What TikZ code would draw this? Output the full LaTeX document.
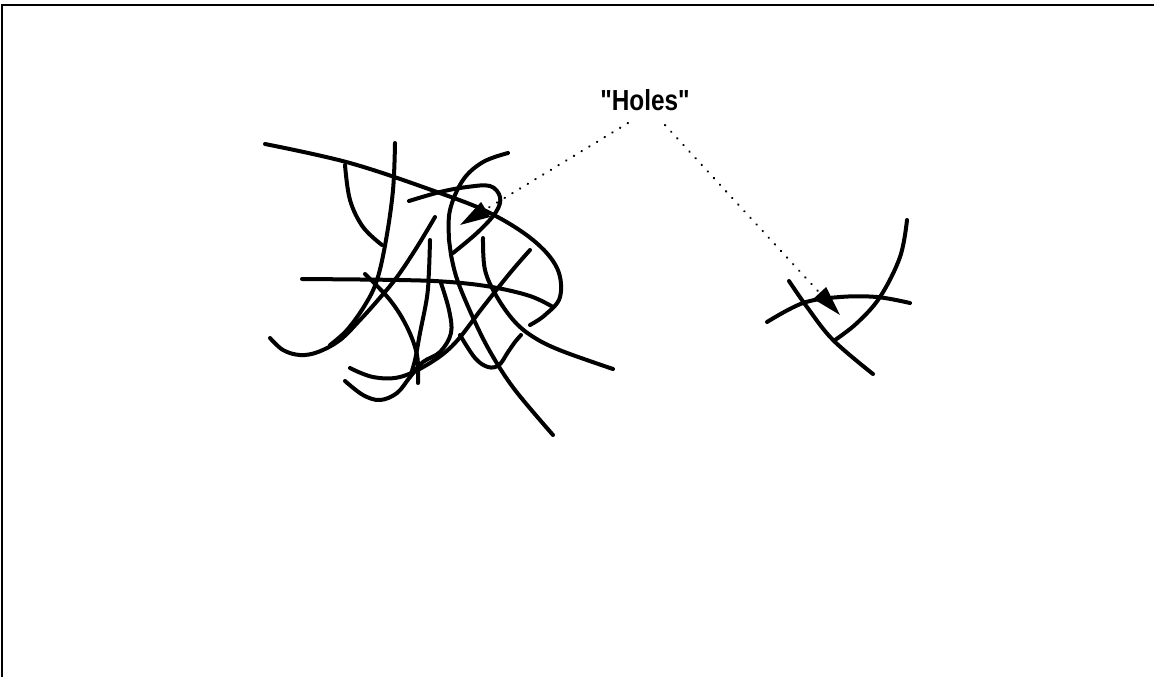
\documentclass[tikz,border=0pt]{standalone}
\usepackage{fontspec}
\newfontfamily\labelfont{Liberation Sans}
\usetikzlibrary{arrows.meta}

\tikzset{
  scribble/.style={line width=2pt, line cap=round, line join=round},
  pointer/.style={line width=1.1pt, line cap=round, dash pattern=on 0.2pt off 4.3pt,
                  -{Triangle[length=15pt,width=8.5pt]}},
  frameline/.style={line width=1pt},
  tag/.style={inner sep=0pt, xscale=0.84, font=\labelfont\fontsize{14.5pt}{16pt}\selectfont\bfseries}
}

\begin{document}
\begin{tikzpicture}[x=0.5pt, y=-0.5pt]
  \useasboundingbox (0,0) rectangle (1154,677);

  % page frame (top and left edges)
  \draw[frameline] (2,677) -- (2,5) -- (1154,5);

  % label
  \node[tag] (holes) at (645,100) {"Holes"};
  \coordinate (lstart) at (628,123);
  \coordinate (rstart) at (665,125);
  \coordinate (ltip) at (460,225);
  \coordinate (rtip) at (840,315);

  % tangled cluster of strands
  \draw[scribble] plot[smooth, tension=0.6] coordinates {(265,144) (350,163) (437,192) (490,213) (533,240) (557,268) (560,297) (545,315) (530,325)};
  \draw[scribble] plot[smooth, tension=0.6] coordinates {(302,279) (400,280) (450,282) (492,287) (530,296) (553,307)};
  \draw[scribble] plot[smooth, tension=0.6] coordinates {(395,143) (393,190) (386,240) (377,280) (365,305) (347,330) (330,345)};
  \draw[scribble] plot[smooth, tension=0.6] coordinates {(435,217) (417,247) (397,277) (378,300) (360,320) (340,340) (318,352) (300,355) (283,350) (270,338)};
  \draw[scribble] plot[smooth, tension=0.6] coordinates {(345,165) (350,200) (363,227) (382,245)};
  \draw[scribble] plot[smooth, tension=0.6] coordinates {(409,201) (440,192) (467,187) (490,186) (500,197) (496,212) (478,232) (453,253)};
  \draw[scribble] plot[smooth, tension=0.6] coordinates {(508,153) (483,162) (463,180) (450,210) (449,240) (451,255) (458,282) (475,322) (492,355) (515,390) (553,435)};
  \draw[scribble] plot[smooth, tension=0.6] coordinates {(430,240) (429,270) (427,297) (420,333) (415,360) (410,377)};
  \draw[scribble] plot[smooth, tension=0.6] coordinates {(365,274) (390,300) (407,327) (417,355) (418,383)};
  \draw[scribble] plot[smooth, tension=0.6] coordinates {(530,250) (510,273) (483,307) (455,343) (430,363) (400,377) (373,377) (350,368)};
  \draw[scribble] plot[smooth, tension=0.6] coordinates {(441,283) (449,310) (451,333) (440,352) (423,362) (410,377) (397,393) (380,400) (363,395) (345,381)};
  \draw[scribble] plot[smooth, tension=0.6] coordinates {(483,238) (485,270) (497,297) (515,322) (535,338) (562,351) (613,369)};
  \draw[scribble] plot[smooth, tension=0.6] coordinates {(460,335) (475,358) (488,367) (499,365) (508,352) (515,342) (521,335)};

  % small group of three strands
  \draw[scribble] plot[smooth, tension=0.6] coordinates {(767,322) (803,303) (840,297) (877,297) (910,303)};
  \draw[scribble] plot[smooth, tension=0.6] coordinates {(789,281) (807,307) (833,340) (873,374)};
  \draw[scribble] plot[smooth, tension=0.6] coordinates {(907,220) (900,257) (880,297) (857,323) (835,340)};

  % pointers from the label
  \draw[pointer] (lstart) -- (ltip);
  \draw[pointer] (rstart) -- (rtip);
\end{tikzpicture}
\end{document}
